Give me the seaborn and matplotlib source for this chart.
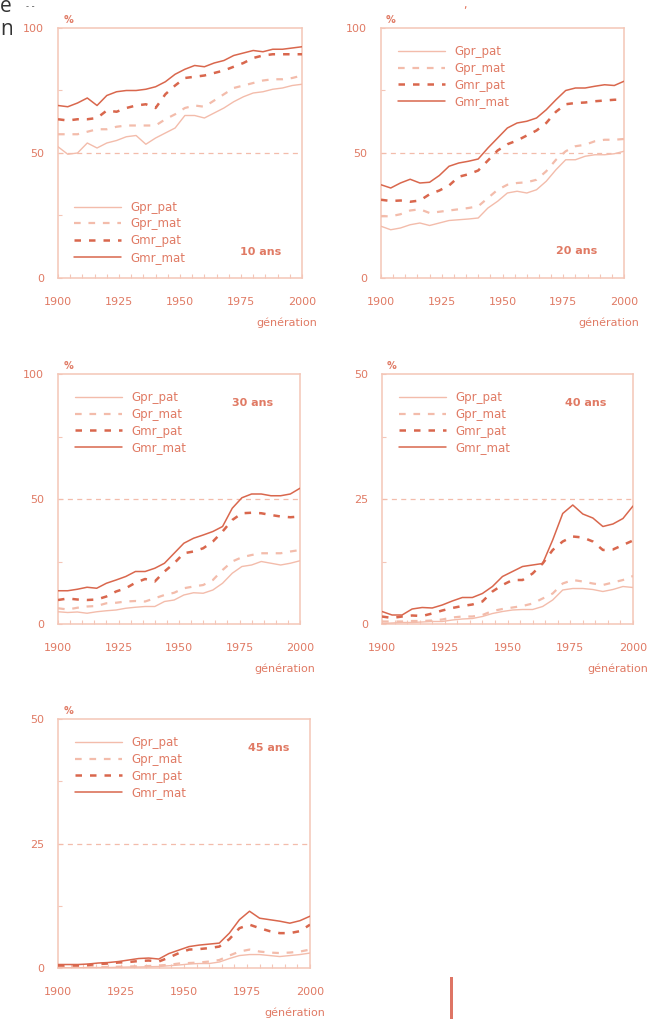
import matplotlib
matplotlib.use("Agg")
import matplotlib.pyplot as plt
import seaborn as sns
import pandas as pd
from matplotlib.patches import Rectangle

# ---------------- data ----------------
years = list(range(1900, 2001, 4))
series_names = ["Gpr_pat", "Gpr_mat", "Gmr_pat", "Gmr_mat"]
panel_labels = ["10 ans", "20 ans", "30 ans", "40 ans", "45 ans"]
x_tick_labels = ["1900", "1925", "1950", "1975", "2000"]

# 10 ans
p10_gpr_pat = [52.5, 49.5, 50, 54, 52, 54, 55, 56.5, 57, 53.5, 56, 58, 60, 65, 65, 64, 66, 68, 70.5, 72.5, 74, 74.5, 75.5, 76, 77, 77.5]
p10_gpr_mat = [57.5, 57.5, 57.5, 58.5, 59.5, 59.5, 60.5, 61, 61, 61, 61, 63.5, 65.5, 68, 69, 68.5, 71, 73.5, 76, 77, 78, 79, 79.5, 79.5, 80, 81]
p10_gmr_pat = [63.5, 63, 63.5, 63.5, 64, 67, 66.5, 68, 69, 69.5, 68, 73.5, 77, 80, 80.5, 81, 82, 83, 84.5, 86, 88, 89, 89.5, 89.5, 89.5, 89.5]
p10_gmr_mat = [69, 68.5, 70, 72, 69, 73, 74.5, 75, 75, 75.5, 76.5, 78.5, 81.5, 83.5, 85, 84.5, 86, 87, 89, 90, 91, 90.5, 91.5, 91.5, 92, 92.5]

# 20 ans
p20_gpr_pat = [20.7, 19.3, 20, 21.3, 22, 21, 22, 23, 23.3, 23.6, 24, 28, 30.7, 34, 34.7, 34, 35.3, 38.7, 43.3, 47.3, 47.3, 48.7, 49.3, 49.3, 49.7, 50.7]
p20_gpr_mat = [24.7, 24.7, 25.5, 27, 27.5, 26, 26.5, 27, 27.5, 28, 28.7, 32, 35.3, 37.3, 38, 38.3, 39.3, 42.7, 47.3, 50.7, 52.7, 53.3, 54.7, 55.3, 55.3, 55.6]
p20_gmr_pat = [31.3, 30.8, 31, 30.5, 31, 33.5, 35, 37, 40.5, 41.5, 43, 47, 51, 53.5, 55, 57, 59, 62, 66.5, 69.5, 70, 70.2, 70.7, 71, 71.3, 71.3]
p20_gmr_mat = [37.3, 36, 38, 39.5, 38, 38.3, 41, 44.7, 46, 46.7, 47.6, 52, 56, 60, 62, 62.7, 64, 67.3, 71.3, 75, 76, 76, 76.7, 77.3, 77, 78.7]

# 30 ans
p30_gpr_pat = [4.9, 4.6, 4.8, 4.3, 4.9, 5.3, 5.6, 6.3, 6.7, 7, 7, 9, 9.6, 11.6, 12.5, 12.3, 13.6, 16.3, 20.3, 23, 23.6, 25, 24.3, 23.6, 24.3, 25.3]
p30_gpr_mat = [6.3, 5.8, 6.5, 7, 7.2, 8.3, 8.5, 9, 9.2, 9, 10.3, 11.6, 12.5, 14.3, 15, 15.6, 17.6, 21.6, 25, 26.7, 27.6, 28.3, 28.3, 28.3, 29, 29.6]
p30_gmr_pat = [9.6, 10.2, 9.8, 9.6, 9.8, 11, 13, 14.3, 16.5, 18, 17, 21, 24.3, 28.3, 29, 30.3, 33, 37, 41.6, 44.3, 44.5, 44.3, 43.6, 43, 42.7, 43]
p30_gmr_mat = [13.3, 13.3, 13.9, 14.7, 14.3, 16.3, 17.6, 19, 21, 21, 22.3, 24.3, 28.3, 32.3, 34.3, 35.6, 37, 39, 46.3, 50.5, 52, 52, 51.3, 51.3, 52, 54.3]

# 40 ans
p40_gpr_pat = [0.1, 0.2, 0.3, 0.3, 0.4, 0.5, 0.5, 0.8, 1, 1.1, 1.5, 2.1, 2.5, 2.8, 2.9, 2.9, 3.5, 4.8, 6.8, 7.1, 7.1, 6.9, 6.5, 6.9, 7.5, 7.3]
p40_gpr_mat = [0.5, 0.5, 0.5, 0.6, 0.6, 0.7, 0.9, 1.3, 1.5, 1.5, 1.8, 2.6, 3, 3.3, 3.6, 4.1, 5.1, 6.1, 8.1, 8.8, 8.5, 8.1, 7.8, 8.3, 8.8, 9.6]
p40_gmr_pat = [1.5, 1.2, 1.5, 1.7, 1.6, 2.1, 2.7, 3.2, 3.6, 3.9, 4.5, 6.5, 7.8, 8.8, 8.8, 10.1, 12.1, 14.8, 16.5, 17.5, 17.3, 16.5, 14.8, 14.9, 15.8, 16.7]
p40_gmr_mat = [2.5, 1.8, 1.8, 3, 3.3, 3.2, 3.8, 4.6, 5.3, 5.3, 6.1, 7.5, 9.5, 10.5, 11.5, 11.8, 12.1, 16.8, 22.1, 23.8, 22, 21.2, 19.5, 20, 21.1, 23.6]

# 45 ans
p45_gpr_pat = [0.05, 0.05, 0.05, 0.1, 0.1, 0.1, 0.15, 0.2, 0.2, 0.25, 0.3, 0.45, 0.6, 0.8, 0.9, 0.9, 1.2, 1.9, 2.5, 2.7, 2.7, 2.5, 2.3, 2.5, 2.7, 3]
p45_gpr_mat = [0.1, 0.1, 0.1, 0.15, 0.2, 0.2, 0.25, 0.3, 0.35, 0.4, 0.5, 0.65, 0.9, 1, 1.1, 1.3, 1.6, 2.5, 3.3, 3.7, 3.3, 3.1, 3, 3.1, 3.3, 3.7]
p45_gmr_pat = [0.5, 0.5, 0.5, 0.6, 0.8, 0.9, 1.1, 1.2, 1.4, 1.5, 1.3, 2.1, 3, 3.7, 3.8, 4, 4.3, 5.8, 8, 8.7, 8, 7.4, 7, 7, 7.4, 8.7]
p45_gmr_mat = [0.7, 0.7, 0.7, 0.8, 1, 1.1, 1.3, 1.6, 1.9, 2, 1.8, 2.9, 3.6, 4.3, 4.6, 4.8, 5, 7, 9.7, 11.4, 10, 9.7, 9.4, 9, 9.5, 10.4]

panel_series = [
    [p10_gpr_pat, p10_gpr_mat, p10_gmr_pat, p10_gmr_mat],
    [p20_gpr_pat, p20_gpr_mat, p20_gmr_pat, p20_gmr_mat],
    [p30_gpr_pat, p30_gpr_mat, p30_gmr_pat, p30_gmr_mat],
    [p40_gpr_pat, p40_gpr_mat, p40_gmr_pat, p40_gmr_mat],
    [p45_gpr_pat, p45_gpr_mat, p45_gmr_pat, p45_gmr_mat],
]
y_max = [100, 100, 100, 50, 50]

# ---------------- style ----------------
sns.set_theme(style="white")
plt.rcParams["font.family"] = ["DejaVu Sans"]

DARK = "#d9674d"
LIGHT = "#f3bcab"
FRAME = "#f4c6b7"
TXT = "#e07a64"

styles = {
    "Gpr_pat": dict(color=LIGHT, lw=1.0, dashes=None),
    "Gpr_mat": dict(color=LIGHT, lw=1.6, dashes=(3, 3.5)),
    "Gmr_pat": dict(color=DARK, lw=1.8, dashes=(2.6, 3.2)),
    "Gmr_mat": dict(color=DARK, lw=1.1, dashes=None),
}

W, H = 648, 1019
fig = plt.figure(figsize=(W / 100, H / 100), dpi=100)

# axes boxes in pixels: (left, top, right, bottom)
boxes = [(58, 28, 302, 278), (381, 28, 624, 278), (58, 374, 300, 624),
         (382, 374, 633, 624), (58, 719, 310, 968)]
legend_pos = ["lower", "upper", "upper", "upper", "upper"]
label_pos = [(0.83, 0.104), (0.807, 0.108), (0.806, 0.884), (0.81, 0.884), (0.837, 0.884)]

FS = 8          # tick labels
LFS = 8.5       # legend

for i, (l, t, r, b) in enumerate(boxes):
    ax = fig.add_axes([l / W, 1 - b / H, (r - l) / W, (b - t) / H])
    wpx, hpx = r - l, b - t
    ym = y_max[i]
    ax.axhline(ym / 2, color=LIGHT, lw=0.9, dashes=(4, 3.5), zorder=1)
    for name, vals in zip(series_names, panel_series[i]):
        df = pd.DataFrame({"year": years, "val": vals})
        st = styles[name]
        sns.lineplot(data=df, x="year", y="val", ax=ax, color=st["color"],
                     lw=st["lw"], label=name, zorder=3)
        ln = ax.get_lines()[-1]
        if st["dashes"] is not None:
            ln.set_dashes(st["dashes"])
    ax.set_xlim(1900, 2000)
    ax.set_ylim(0, ym)
    ax.set_xlabel("")
    ax.set_ylabel("")
    ax.set_xticks(range(1900, 2001, 25))
    ax.set_xticklabels(x_tick_labels)
    ax.set_xticks(range(1900, 2001, 5), minor=True)
    ax.set_yticks([0, ym / 2, ym])
    ax.set_yticklabels([f"{v:g}" for v in [0, ym / 2, ym]])
    ax.set_yticks([ym / 4, 3 * ym / 4], minor=True)
    ax.tick_params(axis="x", which="both", direction="in", length=3, width=0.8,
                   color=FRAME, labelcolor=TXT, labelsize=FS, pad=14, bottom=True)
    ax.tick_params(axis="y", which="both", direction="in", length=3, width=0.8,
                   color=FRAME, labelcolor=TXT, labelsize=FS, pad=10, left=True)
    for s in ax.spines.values():
        s.set_color(FRAME)
        s.set_linewidth(1.1)
    ax.set_facecolor("white")
    # legend
    common = dict(frameon=False, fontsize=LFS, handlelength=4.0,
                  handletextpad=0.8, labelspacing=0.32, borderpad=0,
                  borderaxespad=0)
    if legend_pos[i] == "lower":
        leg = ax.legend(loc="lower left", bbox_to_anchor=(16 / wpx, 14 / hpx), **common)
    else:
        leg = ax.legend(loc="upper left", bbox_to_anchor=(17 / wpx, 1 - 17 / hpx), **common)
    for txt in leg.get_texts():
        txt.set_color(TXT)
    lx, ly = label_pos[i]
    ax.text(lx, ly, panel_labels[i], transform=ax.transAxes, ha="center",
            va="center", fontsize=FS, color=TXT, fontweight="bold")
    # % label
    ax.annotate("%", xy=(0, 1), xycoords="axes fraction", xytext=(10, 8),
                textcoords="offset pixels", ha="center", va="center",
                fontsize=FS - 1, color=TXT, fontweight="bold")
    # génération label
    ax.annotate("génération", xy=(1, 0), xycoords="axes fraction",
                xytext=(15, -45), textcoords="offset pixels", ha="right",
                va="center", fontsize=FS, color=TXT)

# page artefacts (fragments of neighbouring page text)
fig.text(0 / W, 1 - 12 / H, "e", fontsize=15, color="#333333", ha="left",
         va="baseline", family=["Open Sans", "DejaVu Sans"])
fig.text(26 / W, 1 - 9 / H, "- -", fontsize=6, color="#555555", ha="left",
         va="baseline")
fig.text(0 / W, 1 - 35 / H, "n", fontsize=15, color="#333333", ha="left",
         va="baseline", family=["Open Sans", "DejaVu Sans"])
fig.text(465 / W, 1 - 8 / H, ",", fontsize=8, color="#e0664a", ha="center",
         va="baseline")
fig.add_artist(Rectangle((450 / W, 0), 3 / W, 42 / H, transform=fig.transFigure,
                         color="#de7565", lw=0))

fig.savefig("out.png", dpi=100)
